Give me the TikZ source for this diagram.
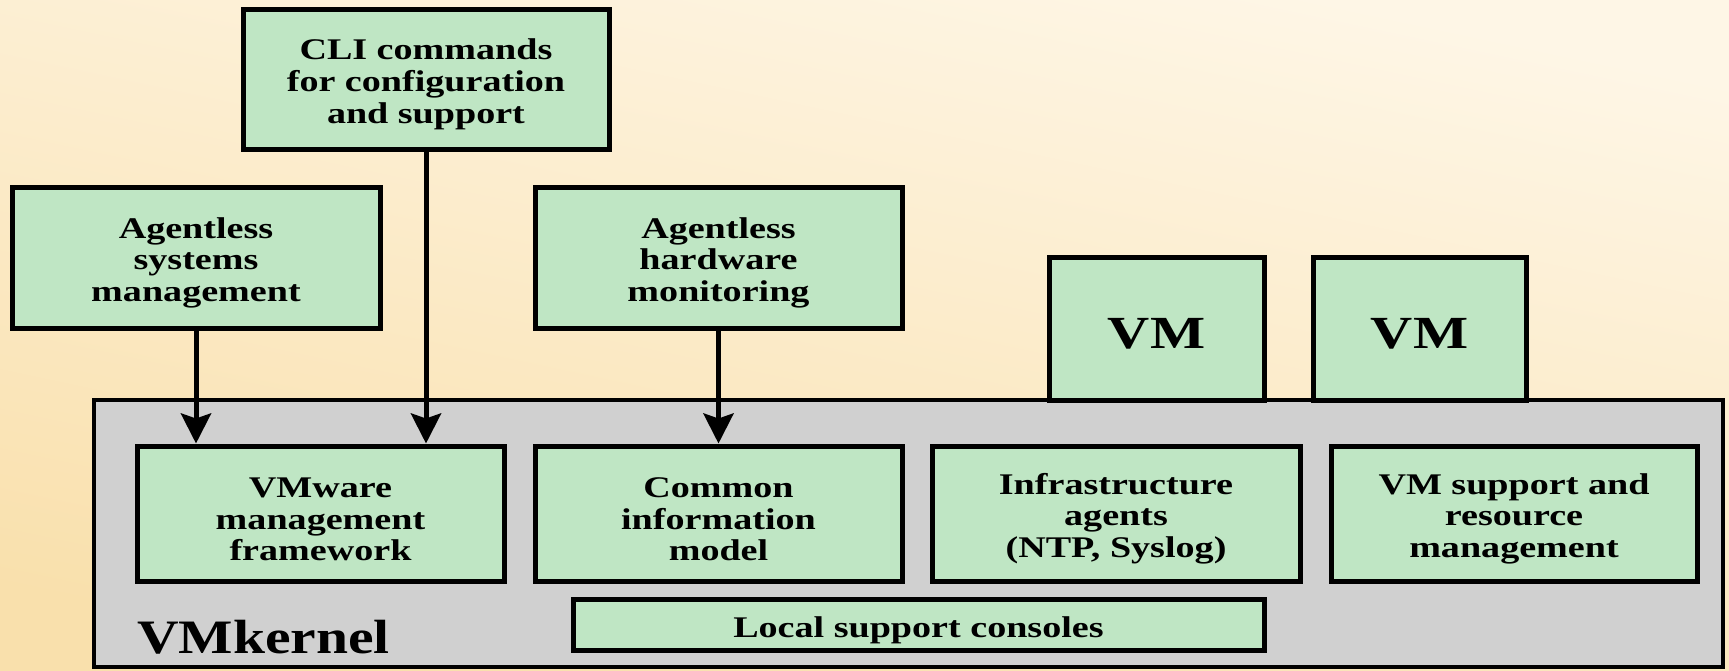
\documentclass[tikz,border=0pt]{standalone}
\usepackage{fontspec}
\newfontfamily\dfont{Liberation Serif}[FakeStretch=1.27]
\newfontfamily\dfontk{Liberation Serif}[FakeStretch=1.2]
\usetikzlibrary{arrows.meta}
\definecolor{bgtop}{RGB}{254,246,230}
\definecolor{bgbot}{RGB}{249,224,172}
\definecolor{boxgreen}{RGB}{191,230,196}
\definecolor{kgray}{RGB}{208,208,208}
\newcommand\toprl{\rule{0pt}{31.5pt}}
\tikzset{
  gbox/.style={draw=black, fill=boxgreen, line width=5pt, align=center, inner sep=0pt,
    font=\dfont\bfseries\fontsize{30}{31.7}\selectfont},
  vmbox/.style={draw=black, fill=boxgreen, line width=5pt, align=center, inner sep=0pt,
    font=\dfont\bfseries\fontsize{46}{48}\selectfont},
  kbox/.style={draw=black, fill=kgray, line width=4pt, inner sep=0pt},
  arr/.style={line width=5pt, -{Stealth[length=30pt, width=30pt, inset=5pt]}}
}
\begin{document}
\begin{tikzpicture}[x=1pt, y=-1pt]
\useasboundingbox (0,0) rectangle (1729,670);
\shade[top color=bgtop, bottom color=bgbot, shading angle=-12] (0,0) rectangle (1729,670);
% VMkernel container
\node[kbox, minimum width=1629pt, minimum height=267pt] (kern) at (908.5,533.5) {};
\node[anchor=base west, font=\dfontk\bfseries\fontsize{48}{50}\selectfont, inner sep=0pt] (klabel) at (137,653) {VMkernel};
% top boxes
\node[gbox, minimum width=366pt, minimum height=140pt] (cli) at (426,79) {\toprl CLI commands\\for configuration\\and support};
\node[gbox, minimum width=368pt, minimum height=141pt] (asm) at (196,257.5) {\toprl Agentless\\systems\\management};
\node[gbox, minimum width=367pt, minimum height=141pt] (ahm) at (718.5,257.5) {\toprl Agentless\\hardware\\monitoring};
\node[vmbox, minimum width=215pt, minimum height=143pt] (vm1) at (1156.5,328.5) {\rule{0pt}{41.5pt}VM};
\node[vmbox, minimum width=213pt, minimum height=143pt] (vm2) at (1419.5,328.5) {\rule{0pt}{41.5pt}VM};
% inner boxes
\node[gbox, minimum width=367pt, minimum height=135pt] (vmf) at (320.5,513.5) {\toprl VMware\\management\\framework};
\node[gbox, minimum width=367pt, minimum height=135pt] (cim) at (718.5,513.5) {\toprl Common\\information\\model};
\node[gbox, minimum width=368pt, minimum height=135pt] (inf) at (1116,513.5) {\toprl Infrastructure\\agents\\(NTP, Syslog)};
\node[gbox, minimum width=366pt, minimum height=135pt] (vms) at (1514,513.5) {\toprl VM support and\\resource\\management};
\node[gbox, minimum width=691pt, minimum height=51pt] (lsc) at (918.5,624.5) {\toprl Local support consoles};
% arrows
\draw[arr] (asm.south) -- (asm.south |- vmf.north);
\draw[arr] (cli.south) -- (cli.south |- vmf.north);
\draw[arr] (ahm.south) -- (cim.north);
\end{tikzpicture}
\end{document}
